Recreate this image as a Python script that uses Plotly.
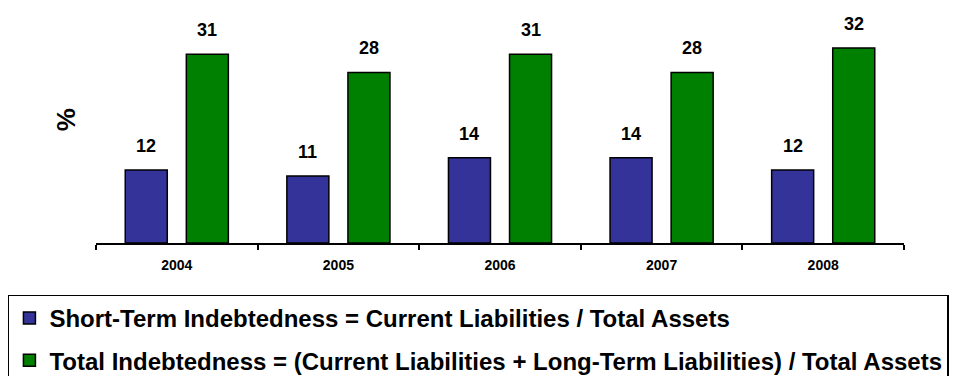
import plotly.graph_objects as go

years = ["2004", "2005", "2006", "2007", "2008"]
short_term = [12, 11, 14, 14, 12]
total = [31, 28, 31, 28, 32]

short_name = "Short-Term Indebtedness = Current Liabilities / Total Assets"
total_name = "Total Indebtedness = (Current Liabilities + Long-Term Liabilities) / Total Assets"

FONT = "Liberation Sans, Arial, sans-serif"
BAR_W = 0.26
OFF_SHORT = -0.319
OFF_TOTAL = 0.059

fig = go.Figure()
fig.add_trace(go.Bar(
    x=years, y=short_term, name=short_name,
    width=BAR_W, offset=OFF_SHORT,
    marker=dict(color="#333399", line=dict(color="black", width=1.5)),
    legendgroup="a",
))
fig.add_trace(go.Bar(
    x=years, y=total, name=total_name,
    width=BAR_W, offset=OFF_TOTAL,
    marker=dict(color="#008000", line=dict(color="black", width=1.5)),
    legendgroup="b",
))

# value labels above each bar
annotations = []
for i, (s, t) in enumerate(zip(short_term, total)):
    for val, off in ((s, OFF_SHORT), (t, OFF_TOTAL)):
        annotations.append(dict(
            x=i + off + BAR_W / 2, y=val, xref="x", yref="y",
            text=str(val), showarrow=False, yanchor="bottom", yshift=12,
            font=dict(family=FONT, size=18, color="black", weight="bold"),
        ))

# y-axis title
annotations.append(dict(
    x=-0.037, y=0.506, xref="paper", yref="paper", text="%",
    xanchor="center", yanchor="middle",
    showarrow=False, textangle=-90,
    font=dict(family=FONT, size=26, color="black", weight="bold"),
))

fig.update_layout(
    width=959, height=376,
    margin=dict(l=96, r=55, t=0, b=133, autoexpand=False),
    paper_bgcolor="white", plot_bgcolor="white",
    barmode="overlay",
    annotations=annotations,
    showlegend=True,
    legend=dict(
        x=-0.109, y=-0.212, xanchor="left", yanchor="top",
        orientation="v", traceorder="grouped", tracegroupgap=8,
        bordercolor="black", borderwidth=1.5,
        font=dict(family=FONT, size=24, color="black", weight="bold"),
        bgcolor="white",
    ),
    xaxis=dict(
        type="category", range=[-0.5, 4.5],
        showline=True, linecolor="black", linewidth=1.5,
        ticks="outside", tickson="boundaries", ticklen=5, tickcolor="black", tickwidth=1.5,
        showgrid=False, zeroline=False,
        tickfont=dict(family=FONT, size=14, color="black", weight="bold"),
        ticklabelstandoff=8,
    ),
    yaxis=dict(
        range=[0, 39.9], visible=False, showgrid=False, zeroline=False,
    ),
)

fig.write_html("out.html")
